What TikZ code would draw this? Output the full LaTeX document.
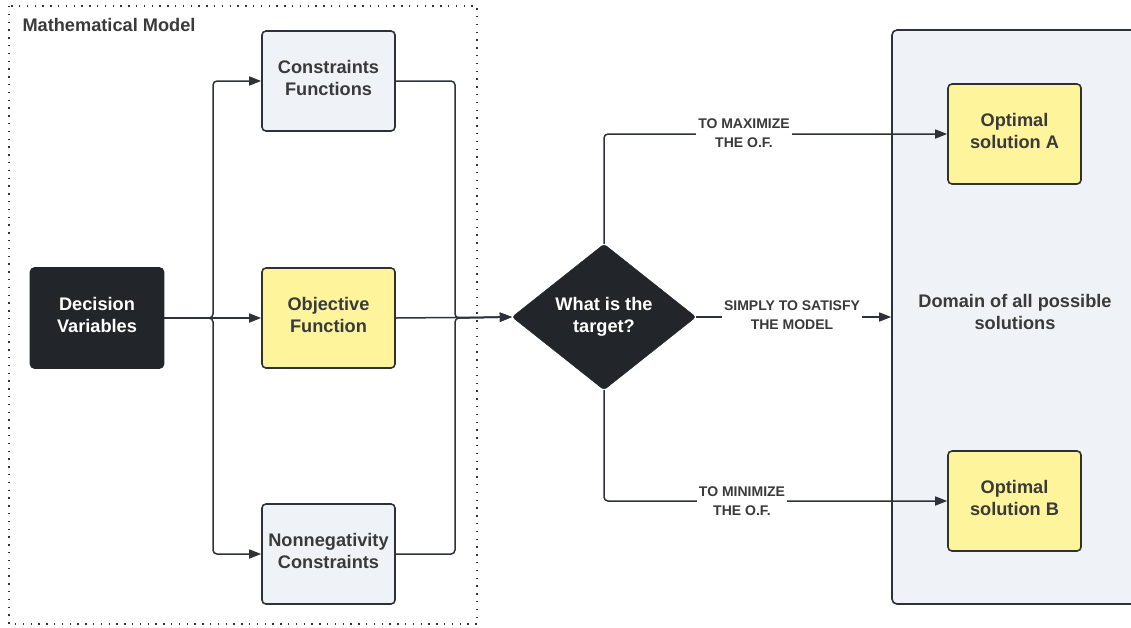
\documentclass[tikz,border=0pt]{standalone}
\usepackage{fontspec}
\setmainfont{Liberation Sans}
\usetikzlibrary{shapes.geometric,arrows.meta}
\definecolor{ink}{HTML}{2E3238}
\definecolor{txt}{HTML}{3A3A3A}
\definecolor{lightbox}{HTML}{EFF2F6}
\definecolor{yel}{HTML}{FDF49C}
\definecolor{darkfill}{HTML}{22262B}
\tikzset{
  box/.style={draw=ink, line width=1.6pt, rounded corners=4pt, minimum width=133pt, minimum height=100pt,
    align=center, text=txt, font=\fontsize{18.2}{22.5}\selectfont\bfseries, inner sep=0pt, text depth=6.5pt},
  lightb/.style={box, fill=lightbox},
  yelb/.style={box, fill=yel},
  darkb/.style={box, fill=darkfill, draw=darkfill, text=white},
  conn/.style={draw=ink, line width=1.5pt, rounded corners=4pt},
  arr/.style={conn, -{Triangle[length=12pt,width=9pt]}},
  lbl/.style={fill=white, text=txt, align=center, font=\fontsize{14}{19}\selectfont\bfseries, inner sep=2pt}
}
\begin{document}
\begin{tikzpicture}[x=1pt,y=-1pt]
\useasboundingbox (0,0) rectangle (1131,627);
% dotted frame
\draw[ink, line width=1.6pt, dash pattern=on 1.4pt off 6.4pt] (9,6) rectangle (477,624);
\node[anchor=west, text=txt, font=\fontsize{18.2}{20}\selectfont\bfseries] (title) at (19,25) {Mathematical Model};
% domain
\node[draw=ink, fill=lightbox, line width=1.6pt, rounded corners=5pt, minimum width=250pt, minimum height=574pt,
  inner sep=0pt] (dom) at (1017,317) {};
\node[text=txt, align=center, font=\fontsize{18.2}{22.5}\selectfont\bfseries] (domt) at (1015,312) {Domain of all possible\\solutions};
% boxes
\node[darkb] (dv) at (97,318) {Decision\\Variables};
\node[lightb] (cf) at (328.5,81) {Constraints\\Functions};
\node[yelb] (of) at (328.5,318) {Objective\\Function};
\node[lightb] (nc) at (328.5,554) {Nonnegativity\\Constraints};
\node[draw=darkfill, fill=darkfill, diamond, minimum width=184pt, minimum height=146pt, inner sep=0pt,
  rounded corners=3pt, text=white, align=center, font=\fontsize{18.2}{22.5}\selectfont\bfseries] (d) at (604,317) {What is the\\target?};
\node[yelb] (a) at (1014.5,134) {Optimal\\solution A};
\node[yelb] (b) at (1014.5,501) {Optimal\\solution B};
% junctions
\coordinate (j1) at (213,318);
\coordinate (j2) at (455,318);
% connectors left
\draw[arr] (dv.east) -- (of.west);
\draw[arr] (dv.east) -- (j1) |- (cf.west);
\draw[arr] (dv.east) -- (j1) |- (nc.west);
\draw[arr] (of.east) -- (d.west);
\draw[arr] (cf.east) -| (j2) -- (d.west);
\draw[arr] (nc.east) -| (j2) -- (d.west);
% connectors right
\draw[arr] (d.north) |- (a.west);
\draw[arr] (d.east) -- (dom.west);
\draw[arr] (d.south) |- (b.west);
% labels
\node[lbl] (l1) at (744,133) {TO MAXIMIZE\\THE O.F.};
\node[lbl] (l2) at (792,315) {SIMPLY TO SATISFY\\THE MODEL};
\node[lbl] (l3) at (742,501) {TO MINIMIZE\\THE O.F.};
\end{tikzpicture}
\end{document}
